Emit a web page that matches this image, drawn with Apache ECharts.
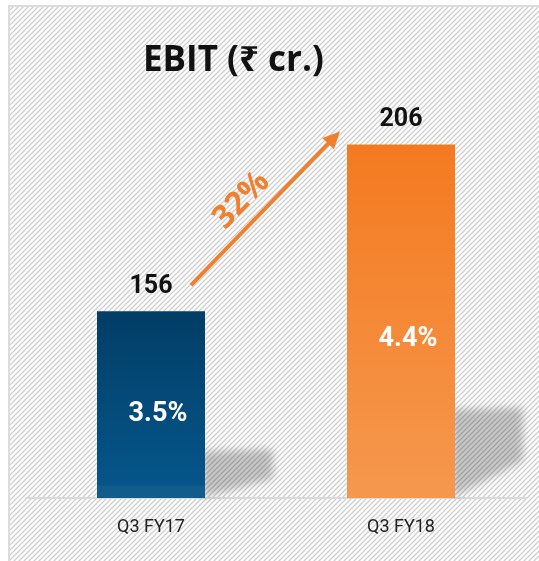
<!DOCTYPE html>
<html lang="en">
<head>
    <meta charset="UTF-8">
    <title>EBIT</title>
    <script src="https://cdn.jsdelivr.net/npm/echarts@6/dist/echarts.min.js"></script>
    <style>
        html, body { margin: 0; padding: 0; background: #fff; }
    </style>
</head>
<body>
<div id="main" style="width:539px;height:561px;"></div>

<script>
    // data
    var categories = ['Q3 FY17', 'Q3 FY18'];
    var ebit = [156, 206];
    var margins = ['3.5%', '4.4%'];
    var axisMin = 100;

    var myChart = echarts.init(document.getElementById('main'));

    // diagonal hatch used as the panel background
    var tile = document.createElement('canvas');
    tile.width = 5;
    tile.height = 5;
    var ctx = tile.getContext('2d');
    ctx.fillStyle = '#ffffff';
    ctx.fillRect(0, 0, 5, 5);
    ctx.strokeStyle = '#cfcfcf';
    ctx.lineWidth = 1.3;
    ctx.beginPath();
    ctx.moveTo(-1, 6); ctx.lineTo(6, -1);
    ctx.moveTo(-1, 1); ctx.lineTo(1, -1);
    ctx.moveTo(4, 6); ctx.lineTo(6, 4);
    ctx.stroke();

    var barColors = [
        new echarts.graphic.LinearGradient(0, 0, 0, 1, [
            {offset: 0, color: '#023e66'},
            {offset: 0.93, color: '#05558a'},
            {offset: 0.94, color: '#125c8c'},
            {offset: 1, color: '#125c8c'}
        ]),
        new echarts.graphic.LinearGradient(0, 0, 0, 1, [
            {offset: 0, color: '#f47a20'},
            {offset: 1, color: '#f5984e'}
        ])
    ];

    var option = {
        backgroundColor: '#ffffff',
        animation: false,
        title: {
            text: 'EBIT (₹ cr.)',
            left: 138,
            top: 39,
            textStyle: {
                fontFamily: "'Open Sans', 'Noto Sans', 'DejaVu Sans'",
                fontWeight: 'bold',
                fontSize: 35,
                color: '#111'
            }
        },
        grid: {left: 26, right: 13, top: 31, bottom: 63},
        xAxis: {
            type: 'category',
            data: categories,
            axisLine: {lineStyle: {color: '#d9d9d9', width: 2}},
            axisTick: {length: 5, lineStyle: {color: '#d9d9d9', width: 1.5}},
            axisLabel: {
                margin: 20,
                fontFamily: 'Roboto',
                fontSize: 18,
                color: '#222'
            }
        },
        yAxis: {
            type: 'value',
            min: axisMin,
            max: 240,
            show: false,
            splitLine: {show: false}
        },
        series: [
            {
                // soft shadow to the right of each bar (only the blurred shadow is visible)
                type: 'custom',
                z: 1,
                silent: true,
                clip: false,
                data: ebit.map(function (v, i) { return [i, v]; }),
                renderItem: function (params, api) {
                    var top = api.coord([api.value(0), api.value(1)]);
                    var base = api.coord([api.value(0), axisMin]);
                    var xr = top[0] + 50 - 2000;
                    var h = (base[1] - top[1]) * 0.25;
                    return {
                        type: 'polygon',
                        shape: {
                            points: [
                                [xr, base[1]],
                                [xr, base[1] - h],
                                [xr + 72, base[1] - h - 2],
                                [xr + 72, base[1] - h * 0.42]
                            ]
                        },
                        style: {
                            fill: '#000',
                            shadowBlur: 8,
                            shadowOffsetX: 2000,
                            shadowColor: 'rgba(0,0,0,0.22)'
                        }
                    };
                }
            },
            {
                name: 'EBIT',
                type: 'bar',
                z: 2,
                barWidth: 108,
                data: ebit.map(function (v, i) {
                    return {value: v, itemStyle: {color: barColors[i]}};
                }),
                label: {
                    show: true,
                    position: ['50%', '55%'],
                    offset: [7, 0],
                    align: 'center',
                    verticalAlign: 'middle',
                    formatter: function (p) { return margins[p.dataIndex]; },
                    fontFamily: 'Roboto',
                    fontWeight: 'bold',
                    fontSize: 27,
                    color: '#fff'
                }
            },
            {
                // transparent copy that carries the value labels on top
                type: 'bar',
                z: 3,
                barWidth: 108,
                barGap: '-100%',
                silent: true,
                itemStyle: {color: 'transparent'},
                data: ebit,
                label: {
                    show: true,
                    position: 'top',
                    distance: 12,
                    fontFamily: 'Roboto',
                    fontWeight: 'bold',
                    fontSize: 25,
                    color: '#111'
                }
            }
        ]
    };
    myChart.setOption(option);

    // growth arrow between the two bars
    var a = myChart.convertToPixel({seriesIndex: 1}, [0, ebit[0]]);
    var b = myChart.convertToPixel({seriesIndex: 1}, [1, ebit[1]]);
    var x1 = a[0] + 40, y1 = a[1] - 26;
    var x2 = b[0] - 61, y2 = b[1] - 13;
    var len = Math.sqrt((x2 - x1) * (x2 - x1) + (y2 - y1) * (y2 - y1));
    var dx = (x2 - x1) / len, dy = (y2 - y1) / len;
    var head = 17, half = 8;
    var growth = Math.round((ebit[1] - ebit[0]) / ebit[0] * 100) + '%';
    var orange = '#f07f2e';

    myChart.setOption({
        graphic: [
            {
                type: 'rect',
                z: -10,
                silent: true,
                shape: {x: 9, y: 6, width: 540, height: 560},
                style: {
                    fill: {image: tile, repeat: 'repeat'},
                    stroke: '#dcdcdc',
                    lineWidth: 2
                }
            },
            {
                type: 'line',
                z: 10,
                shape: {x1: x1, y1: y1, x2: x2 - dx * (head - 2), y2: y2 - dy * (head - 2)},
                style: {stroke: orange, lineWidth: 4}
            },
            {
                type: 'polygon',
                z: 10,
                shape: {
                    points: [
                        [x2, y2],
                        [x2 - dx * head - dy * half, y2 - dy * head + dx * half],
                        [x2 - dx * head + dy * half, y2 - dy * head - dx * half]
                    ]
                },
                style: {fill: orange}
            },
            {
                type: 'text',
                z: 10,
                x: (x1 + x2) / 2 - 24,
                y: (y1 + y2) / 2 - 8,
                rotation: Math.atan2(y1 - y2, x2 - x1),
                style: {
                    text: growth,
                    font: "bold 32px 'Open Sans', 'Noto Sans'",
                    fill: orange,
                    align: 'center',
                    verticalAlign: 'middle'
                }
            }
        ]
    });
</script>
</body>
</html>
